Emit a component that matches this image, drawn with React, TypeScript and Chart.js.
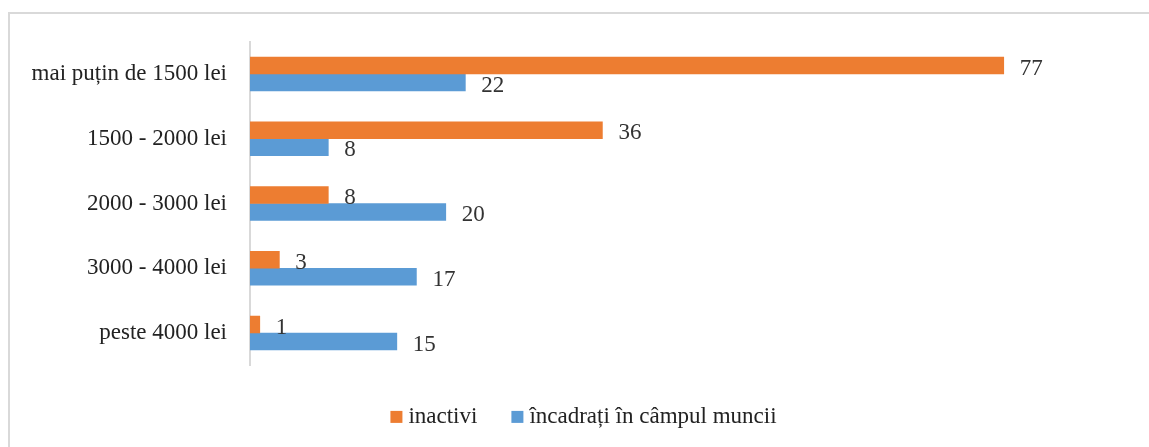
import React, { useEffect, useRef } from "react";
import { Chart, registerables } from "chart.js";

Chart.register(...registerables);

const categories = [
  "mai puțin de 1500 lei",
  "1500 - 2000 lei",
  "2000 - 3000 lei",
  "3000 - 4000 lei",
  "peste 4000 lei",
];
const inactivi = [77, 36, 8, 3, 1];
const incadrati = [22, 8, 20, 17, 15];
const seriesNames = ["inactivi", "încadrați în câmpul muncii"];
const axisMax = 90;

const FONT = '"Liberation Serif", "Times New Roman", serif';

const valueLabels = {
  id: "valueLabels",
  afterDatasetsDraw(chart: any) {
    const ctx = chart.ctx;
    ctx.save();
    ctx.font = `23px ${FONT}`;
    ctx.fillStyle = "#333333";
    ctx.textAlign = "left";
    ctx.textBaseline = "middle";
    chart.data.datasets.forEach((ds: any, di: number) => {
      const meta = chart.getDatasetMeta(di);
      meta.data.forEach((bar: any, i: number) => {
        ctx.fillText(String(ds.data[i]), bar.x + 16, bar.y + 3);
      });
    });
    ctx.restore();
  },
};

const customLegend = {
  id: "customLegend",
  afterDraw(chart: any) {
    const ctx = chart.ctx;
    ctx.save();
    ctx.font = `23px ${FONT}`;
    ctx.textBaseline = "middle";
    ctx.textAlign = "left";
    const box = 12;
    const gapText = 6;
    const gapItem = 34;
    const items = chart.data.datasets.map((ds: any) => ({
      text: ds.label,
      color: ds.backgroundColor,
      w: ctx.measureText(ds.label).width,
    }));
    const total =
      items.reduce((s: number, it: any) => s + box + gapText + it.w, 0) + gapItem * (items.length - 1);
    const centerX = 583.5;
    const cy = chart.chartArea.bottom + 51.5;
    let x = centerX - total / 2;
    items.forEach((it: any) => {
      ctx.fillStyle = it.color;
      ctx.fillRect(x, cy - box / 2, box, box);
      ctx.fillStyle = "#222222";
      ctx.fillText(it.text, x + box + gapText, cy);
      x += box + gapText + it.w + gapItem;
    });
    ctx.restore();
  },
};

export default function App() {
  const ref = useRef<HTMLCanvasElement>(null);
  useEffect(() => {
    if (!ref.current) return;
    const chart = new Chart(ref.current, {
      type: "bar",
      data: {
        labels: categories,
        datasets: [
          { label: seriesNames[0], data: inactivi, backgroundColor: "#ED7D31", borderWidth: 0, barThickness: 17 },
          { label: seriesNames[1], data: incadrati, backgroundColor: "#5B9BD5", borderWidth: 0, barThickness: 17 },
        ],
      },
      options: {
        indexAxis: "y",
        responsive: false,
        animation: false,
        layout: { padding: { top: 41.6, left: 0, right: 18, bottom: 81.6 } },
        scales: {
          x: { display: false, min: 0, max: axisMax },
          y: {
            afterFit(scale: any) {
              scale.width = 250;
            },
            grid: { display: false, drawTicks: false },
            border: { display: true, color: "#d9d9d9", width: 2 },
            ticks: { padding: 23, color: "#222222", font: { family: FONT, size: 23 } },
          },
        },
        plugins: {
          tooltip: { enabled: false },
          legend: { display: false },
        },
      },
      plugins: [valueLabels, customLegend],
    });
    return () => chart.destroy();
  }, []);
  return (
    <div style={{ position: "fixed", left: 0, top: 0, width: 1149, height: 447, overflow: "hidden", background: "#fff" }}>
      <div
        style={{
          position: "absolute",
          left: 8,
          top: 12,
          width: 1300,
          height: 600,
          borderTop: "2px solid #d9d9d9",
          borderLeft: "2px solid #d9d9d9",
        }}
      />
      <canvas ref={ref} width={1149} height={447} style={{ position: "absolute", left: 0, top: 0, width: 1149, height: 447 }} />
    </div>
  );
}
